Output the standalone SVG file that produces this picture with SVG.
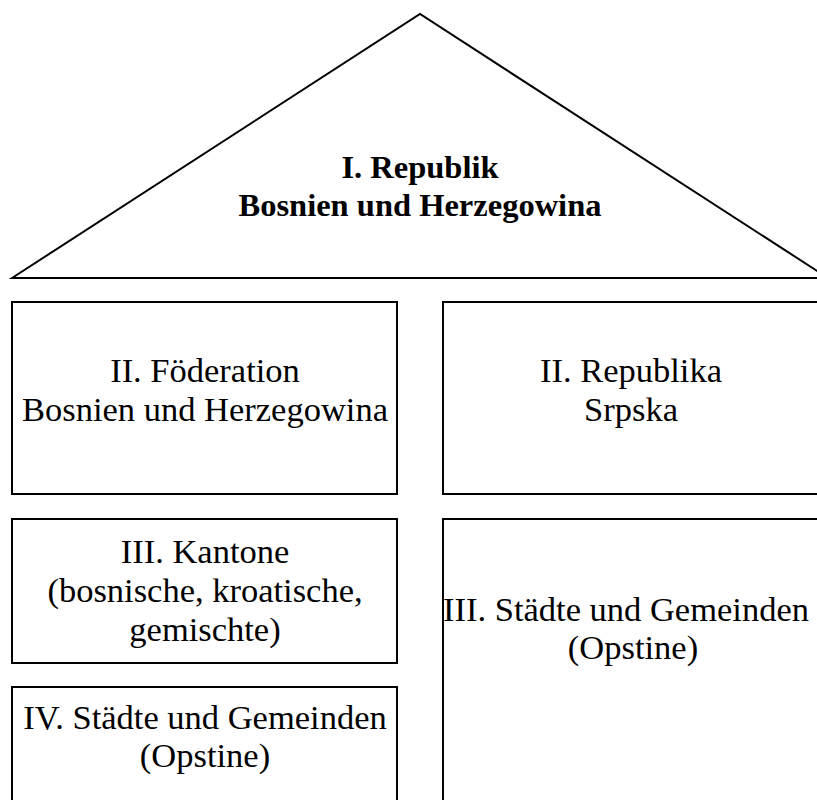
<svg xmlns="http://www.w3.org/2000/svg" width="817" height="800" viewBox="0 0 817 800">
  <style>
    .frame { fill: none; stroke: #000; stroke-width: 2; }
    .label { font-family: "Liberation Serif", "Times New Roman", serif; font-size: 34.5px; fill: #000; text-anchor: middle; }
    .title { font-weight: bold; font-size: 32.5px; }
  </style>
  <rect width="817" height="800" fill="#fff"/>

  <!-- roof: the state as a whole -->
  <g id="republik">
    <path class="frame" d="M12 278 L420 14 L828 278 Z"/>
    <text class="label title" x="420" y="178">I. Republik</text>
    <text class="label title" x="420" y="216">Bosnien und Herzegowina</text>
  </g>

  <!-- left column: Federation -->
  <g id="foederation">
    <rect class="frame" x="12" y="302" width="385" height="192"/>
    <text class="label" x="205" y="382">II. Föderation</text>
    <text class="label" x="205" y="421">Bosnien und Herzegowina</text>
  </g>
  <g id="kantone">
    <rect class="frame" x="12" y="519" width="385" height="144"/>
    <text class="label" x="205" y="563">III. Kantone</text>
    <text class="label" x="205" y="602">(bosnische, kroatische,</text>
    <text class="label" x="205" y="641">gemischte)</text>
  </g>
  <g id="gemeinden-foederation">
    <rect class="frame" x="12" y="687" width="385" height="130"/>
    <text class="label" x="205" y="729">IV. Städte und Gemeinden</text>
    <text class="label" x="205" y="767">(Opstine)</text>
  </g>

  <!-- right column: Republika Srpska -->
  <g id="republika-srpska">
    <rect class="frame" x="443" y="302" width="400" height="192"/>
    <text class="label" x="631" y="382">II. Republika</text>
    <text class="label" x="631" y="421">Srpska</text>
  </g>
  <g id="gemeinden-srpska">
    <rect class="frame" x="443" y="519" width="400" height="300"/>
    <text class="label" x="626" y="621">III. Städte und Gemeinden</text>
    <text class="label" x="633" y="659">(Opstine)</text>
  </g>
</svg>
